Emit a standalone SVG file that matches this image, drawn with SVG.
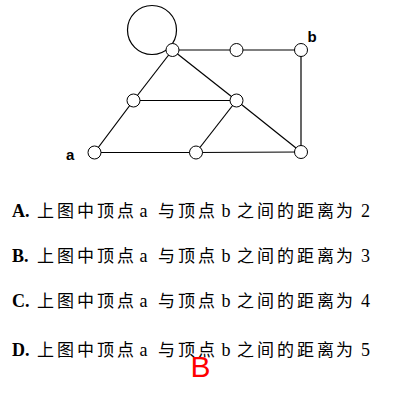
<svg xmlns="http://www.w3.org/2000/svg" width="400" height="400" viewBox="0 0 400 400">
<style>
.edge{stroke:#000;stroke-width:1.2;fill:none}
.node{fill:#fff;stroke:#000;stroke-width:1}
.lbl{font-family:"Liberation Sans",Arial,sans-serif;font-size:15px;font-weight:bold;fill:#000}
.opt{font-size:16px;fill:#000}
.lat{font-family:"Liberation Serif","Times New Roman",serif;font-size:18px}
.bold{font-weight:bold}
.cjk{font-family:"Noto Sans CJK SC",sans-serif;font-size:17px}
.ans{font-family:"Liberation Sans",Arial,sans-serif;font-size:30px;fill:#ff0000}
</style>
<rect width="400" height="400" fill="#fff"/>
<g id="connectors">
<circle class="edge" cx="152" cy="30" r="24.5"/>
<line class="edge" x1="172.5" y1="50" x2="236.5" y2="50"/>
<line class="edge" x1="236.5" y1="50" x2="301" y2="50"/>
<line class="edge" x1="301" y1="50" x2="301" y2="152"/>
<line class="edge" x1="172.5" y1="50" x2="133.5" y2="100.5"/>
<line class="edge" x1="172.5" y1="50" x2="236.5" y2="100.5"/>
<line class="edge" x1="133.5" y1="100.5" x2="236.5" y2="100.5"/>
<line class="edge" x1="133.5" y1="100.5" x2="94.5" y2="152.5"/>
<line class="edge" x1="236.5" y1="100.5" x2="196" y2="152.5"/>
<line class="edge" x1="236.5" y1="100.5" x2="301" y2="152"/>
<line class="edge" x1="94.5" y1="152.5" x2="196" y2="152.5"/>
<line class="edge" x1="196" y1="152.5" x2="301" y2="152"/>
</g>
<g id="n_top"><circle class="node" cx="172.5" cy="50" r="6.5"/></g>
<g id="n_midtop"><circle class="node" cx="236.5" cy="50" r="6.5"/></g>
<g id="n_b"><circle class="node" cx="301" cy="50" r="6.5"/><text class="lbl" x="307.5" y="42">b</text></g>
<g id="n_a"><circle class="node" cx="94.5" cy="152.5" r="6.5"/><text class="lbl" x="66" y="160">a</text></g>
<g id="n_leftmid"><circle class="node" cx="133.5" cy="100.5" r="6.5"/></g>
<g id="n_rightmid"><circle class="node" cx="236.5" cy="100.5" r="6.5"/></g>
<g id="n_botmid"><circle class="node" cx="196" cy="152.5" r="6.5"/></g>
<g id="n_botright"><circle class="node" cx="301" cy="152" r="6.5"/></g>
<g id="options">
<text class="opt" y="216.5"><tspan class="lat bold" x="12">A.</tspan><tspan class="cjk" x="37 57 77 97 117">上图中顶点</tspan><tspan class="lat" x="139.5">a</tspan><tspan class="cjk" x="158 178 198">与顶点</tspan><tspan class="lat" x="221.5">b</tspan><tspan class="cjk" x="237 257 277 297 317 336">之间的距离为</tspan><tspan class="lat" x="361">2</tspan></text>
<text class="opt" y="261.5"><tspan class="lat bold" x="12">B.</tspan><tspan class="cjk" x="37 57 77 97 117">上图中顶点</tspan><tspan class="lat" x="139.5">a</tspan><tspan class="cjk" x="158 178 198">与顶点</tspan><tspan class="lat" x="221.5">b</tspan><tspan class="cjk" x="237 257 277 297 317 336">之间的距离为</tspan><tspan class="lat" x="361">3</tspan></text>
<text class="opt" y="307"><tspan class="lat bold" x="12">C.</tspan><tspan class="cjk" x="37 57 77 97 117">上图中顶点</tspan><tspan class="lat" x="139.5">a</tspan><tspan class="cjk" x="158 178 198">与顶点</tspan><tspan class="lat" x="221.5">b</tspan><tspan class="cjk" x="237 257 277 297 317 336">之间的距离为</tspan><tspan class="lat" x="361">4</tspan></text>
<text class="opt" y="356"><tspan class="lat bold" x="12">D.</tspan><tspan class="cjk" x="37 57 77 97 117">上图中顶点</tspan><tspan class="lat" x="139.5">a</tspan><tspan class="cjk" x="158 178 198">与顶点</tspan><tspan class="lat" x="221.5">b</tspan><tspan class="cjk" x="237 257 277 297 317 336">之间的距离为</tspan><tspan class="lat" x="361">5</tspan></text>
</g>
<text class="ans" x="190.5" y="376.5">B</text>
</svg>
